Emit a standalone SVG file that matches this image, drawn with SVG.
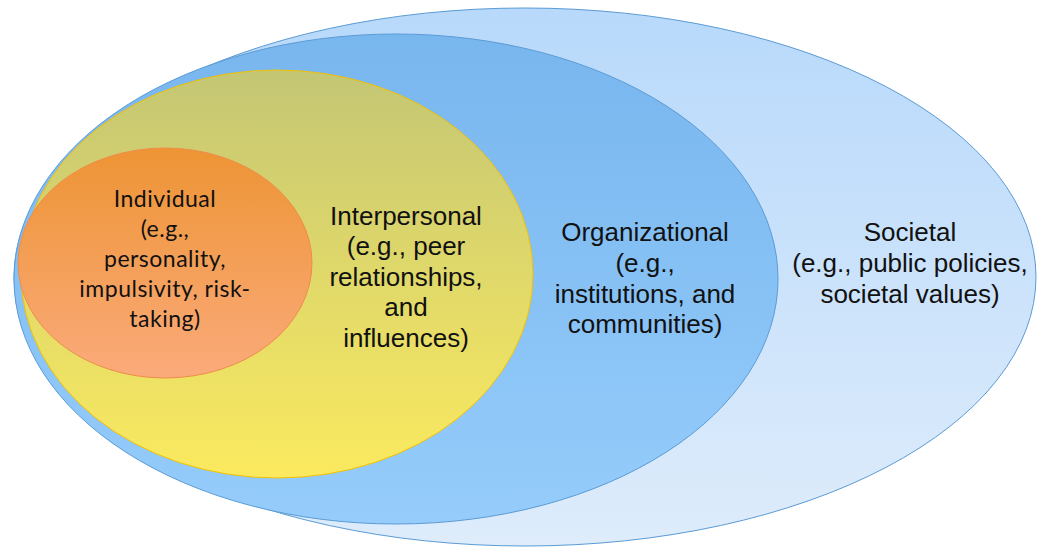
<svg xmlns="http://www.w3.org/2000/svg" width="1038" height="547" viewBox="0 0 1038 547">
<defs>
<linearGradient id="gSoc" x1="0" y1="0" x2="0" y2="1"><stop offset="0" stop-color="#b8d9fb"/><stop offset="1" stop-color="#deecfb"/></linearGradient>
<linearGradient id="gOrg" x1="0" y1="0" x2="0" y2="1"><stop offset="0" stop-color="#78b6ee"/><stop offset="1" stop-color="#95ccfb"/></linearGradient>
<linearGradient id="gInt" x1="0" y1="0" x2="0" y2="1"><stop offset="0" stop-color="#c4c674"/><stop offset="1" stop-color="#fbea5f"/></linearGradient>
<linearGradient id="gInd" x1="0" y1="0" x2="0" y2="1"><stop offset="0" stop-color="#ed9434"/><stop offset="1" stop-color="#fbaa7b"/></linearGradient>
</defs>
<style>
.lbl{font-family:"Liberation Sans",Arial,sans-serif;font-size:26px;fill:#111;text-anchor:middle}
.ind{font-family:Lato,"Liberation Sans",sans-serif;font-size:23px;fill:#111;text-anchor:middle;letter-spacing:0.5px}
.blue{stroke:#5b9bd5;stroke-width:1}
</style>
<g id="societal">
<ellipse cx="525" cy="277" rx="511" ry="269" fill="url(#gSoc)" class="blue"/>
<text class="lbl" x="910" y="241">Societal</text>
<text class="lbl" x="910" y="272">(e.g., public policies,</text>
<text class="lbl" x="910" y="303">societal values)</text>
</g>
<g id="organizational">
<ellipse cx="396" cy="279" rx="382" ry="245" fill="url(#gOrg)" class="blue"/>
<text class="lbl" x="645" y="241">Organizational</text>
<text class="lbl" x="645" y="272">(e.g.,</text>
<text class="lbl" x="645" y="303">institutions, and</text>
<text class="lbl" x="645" y="333">communities)</text>
</g>
<g id="interpersonal">
<ellipse cx="277" cy="274" rx="256" ry="204" fill="url(#gInt)" stroke="#f5c000" stroke-width="1"/>
<text class="lbl" x="406" y="225">Interpersonal</text>
<text class="lbl" x="406" y="255">(e.g., peer</text>
<text class="lbl" x="406" y="286">relationships,</text>
<text class="lbl" x="406" y="316">and</text>
<text class="lbl" x="406" y="347">influences)</text>
</g>
<g id="individual">
<ellipse cx="165" cy="263" rx="147" ry="115" fill="url(#gInd)" stroke="#f08c4a" stroke-width="1"/>
<text class="ind" x="165" y="207">Individual</text>
<text class="ind" x="165" y="237">(e.g.,</text>
<text class="ind" x="165" y="267">personality,</text>
<text class="ind" x="165" y="297">impulsivity, risk-</text>
<text class="ind" x="165" y="327">taking)</text>
</g>
<g id="connectors"/>
</svg>
